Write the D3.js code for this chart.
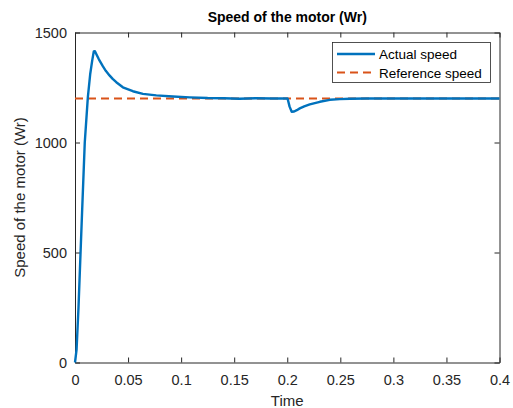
<!DOCTYPE html>
<html>
<head>
<meta charset="utf-8">
<script src="https://cdn.jsdelivr.net/npm/d3@7"></script>
<style>
  body { margin: 0; background: #fff; }
  svg { display: block; font-family: "Liberation Sans", Arial, sans-serif; }
</style>
</head>
<body>
<div id="chart"></div>
<script>
const time = [0, 0.0015, 0.0033, 0.005, 0.0068, 0.0092, 0.0121, 0.0143, 0.0162, 0.0177,
  0.0188, 0.0205, 0.0225, 0.0262, 0.029, 0.0325, 0.0355, 0.0389, 0.0451, 0.0545, 0.064, 0.0766, 0.0923, 0.108,
  0.125, 0.14, 0.155, 0.17, 0.185, 0.2, 0.2003, 0.2022, 0.2042, 0.2065, 0.209, 0.2118, 0.216, 0.2212,
  0.2307, 0.2401, 0.2495, 0.259, 0.275, 0.3, 0.35, 0.4];
const actualSpeed = [0, 60, 250, 470, 700, 1000, 1205, 1310, 1372, 1414,
  1415, 1398, 1378, 1347, 1326, 1305, 1289, 1274, 1251, 1233, 1221, 1214, 1209, 1205,
  1202, 1201, 1199, 1201, 1200, 1200, 1200, 1163, 1140, 1141, 1147, 1155, 1164, 1173,
  1185, 1194, 1197, 1199, 1200, 1200, 1200, 1200];
const refTime = [0, 0.4];
const refSpeed = [1200, 1200];
const xTicks = [0, 0.05, 0.1, 0.15, 0.2, 0.25, 0.3, 0.35, 0.4];
const yTicks = [0, 500, 1000, 1500];
const legendLabels = ["Actual speed", "Reference speed"];

const width = 513, height = 408;
const marginLeft = 75, plotRight = 499.5, marginTop = 32.5, plotBottom = 362.5;
const blue = "#0072BD", orange = "#D95319", axisColor = "#262626";

const x = d3.scaleLinear().domain([0, 0.4]).range([marginLeft, plotRight]);
const y = d3.scaleLinear().domain([0, 1500]).range([plotBottom, marginTop]);

const svg = d3.select("#chart").append("svg")
  .attr("width", width)
  .attr("height", height)
  .attr("viewBox", [0, 0, width, height]);

svg.append("rect").attr("width", width).attr("height", height).attr("fill", "#fff");

// Achsen (Box wie in MATLAB)
const styleAxis = g => {
  g.select(".domain").attr("stroke", axisColor);
  g.selectAll(".tick line").attr("stroke", axisColor);
  g.selectAll(".tick text").attr("fill", axisColor).attr("font-size", 14.5);
};

svg.append("g")
  .attr("transform", `translate(0,${plotBottom})`)
  .call(d3.axisBottom(x).tickValues(xTicks).tickFormat(d3.format("")).tickSize(-5).tickSizeOuter(0).tickPadding(12))
  .call(styleAxis);

svg.append("g")
  .attr("transform", `translate(0,${marginTop})`)
  .call(d3.axisTop(x).tickValues(xTicks).tickFormat("").tickSize(-5).tickSizeOuter(0))
  .call(styleAxis);

svg.append("g")
  .attr("transform", `translate(${marginLeft},0)`)
  .call(d3.axisLeft(y).tickValues(yTicks).tickFormat(d3.format("d")).tickSize(-5).tickSizeOuter(0).tickPadding(8))
  .call(styleAxis);

svg.append("g")
  .attr("transform", `translate(${plotRight},0)`)
  .call(d3.axisRight(y).tickValues(yTicks).tickFormat("").tickSize(-5).tickSizeOuter(0))
  .call(styleAxis);

// Linien
const line = d3.line().x(d => x(d[0])).y(d => y(d[1]));

svg.append("path")
  .datum(refTime.map((t, i) => [t, refSpeed[i]]))
  .attr("fill", "none")
  .attr("stroke", orange)
  .attr("stroke-width", 2.2)
  .attr("stroke-dasharray", "8,5")
  .attr("d", line);

svg.append("path")
  .datum(time.map((t, i) => [t, actualSpeed[i]]))
  .attr("fill", "none")
  .attr("stroke", blue)
  .attr("stroke-width", 2.4)
  .attr("stroke-linejoin", "round")
  .attr("d", line);

// Titel und Achsenbeschriftungen
svg.append("text")
  .attr("x", (marginLeft + plotRight) / 2)
  .attr("y", 22)
  .attr("text-anchor", "middle")
  .attr("font-size", 14)
  .attr("font-weight", "bold")
  .attr("fill", "#000")
  .text("Speed of the motor (Wr)");

svg.append("text")
  .attr("x", (marginLeft + plotRight) / 2)
  .attr("y", 406)
  .attr("text-anchor", "middle")
  .attr("font-size", 15)
  .attr("fill", axisColor)
  .text("Time");

svg.append("text")
  .attr("transform", `translate(25,${(marginTop + plotBottom) / 2}) rotate(-90)`)
  .attr("text-anchor", "middle")
  .attr("font-size", 15)
  .attr("fill", axisColor)
  .text("Speed of the motor (Wr)");

// Legende
const legend = svg.append("g");
legend.append("rect")
  .attr("x", 332.5).attr("y", 42.5)
  .attr("width", 158).attr("height", 40)
  .attr("fill", "#fff")
  .attr("stroke", axisColor)
  .attr("stroke-width", 0.8);

const legendColors = [blue, orange];
legendLabels.forEach((label, i) => {
  const ly = 54 + i * 18.5;
  legend.append("line")
    .attr("x1", 337).attr("x2", 375)
    .attr("y1", ly).attr("y2", ly)
    .attr("stroke", legendColors[i])
    .attr("stroke-width", i === 0 ? 2.4 : 2.2)
    .attr("stroke-dasharray", i === 0 ? null : "8,5");
  legend.append("text")
    .attr("x", 379)
    .attr("y", ly + 5)
    .attr("font-size", 13.5)
    .attr("fill", "#000")
    .text(label);
});
</script>
</body>
</html>
